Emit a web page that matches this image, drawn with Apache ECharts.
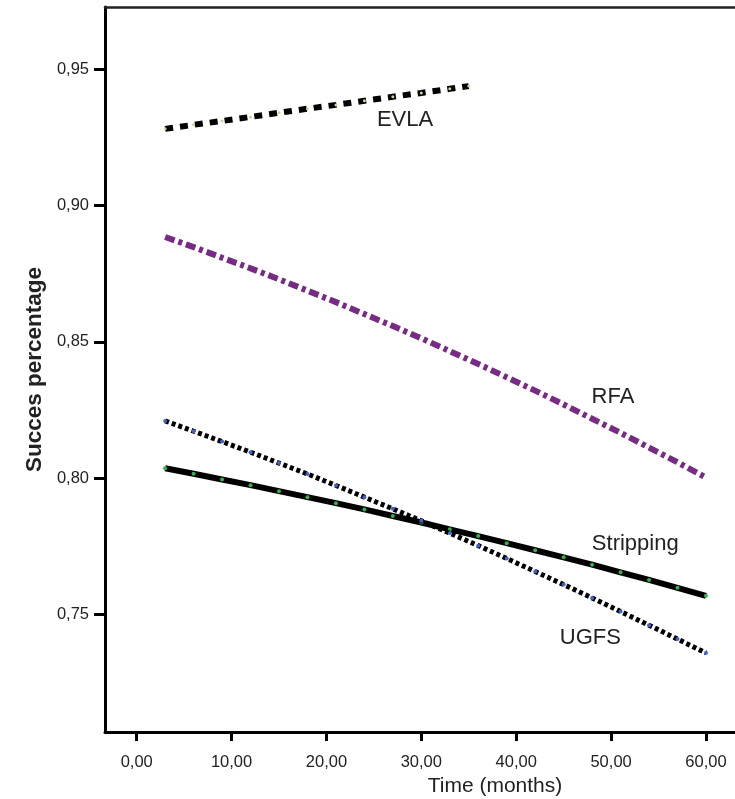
<!DOCTYPE html>
<html>
<head>
<meta charset="utf-8">
<script src="https://cdn.jsdelivr.net/npm/echarts@6/dist/echarts.min.js"></script>
<style>
html,body{margin:0;padding:0;background:#fff;}
#c{width:735px;height:799px;}
</style>
</head>
<body>
<div id="c"></div>
<script>
// ---- data ----
const months = [3,6,9,12,15,18,21,24,27,30,33,36,39,42,45,48,51,54,57,60];
const evlaMonths = [3,6,9,12,15,18,21,24,27,30,33,35];
const evla = [0.9282,0.9297,0.9311,0.9326,0.9341,0.9356,0.9370,0.9385,0.9400,0.9414,0.9429,0.9439];
const rfa = [0.8885,0.8848,0.8809,0.8770,0.8730,0.8688,0.8646,0.8602,0.8558,0.8513,0.8466,0.8419,0.8370,0.8321,0.8270,0.8218,0.8166,0.8112,0.8058,0.8002];
const ugfs = [0.8210,0.8172,0.8134,0.8095,0.8055,0.8015,0.7973,0.7930,0.7887,0.7843,0.7798,0.7752,0.7705,0.7657,0.7609,0.7560,0.7510,0.7460,0.7409,0.7358];
const stripping = [0.8036,0.8016,0.7995,0.7974,0.7952,0.7930,0.7908,0.7885,0.7861,0.7837,0.7812,0.7787,0.7761,0.7735,0.7709,0.7682,0.7654,0.7626,0.7597,0.7568];
const xTicks = [0,10,20,30,40,50,60];
const yTicks = [0.75,0.80,0.85,0.90,0.95];
const seriesNames = ['EVLA','RFA','Stripping','UGFS'];
const labelAnchors = [[28.28,0.9313],[50.2,0.8298],[52.55,0.7758],[47.82,0.7415]];

const FONT = '"Liberation Sans", Arial, sans-serif';
const TXT = '#222';
const pair = (xs, ys) => xs.map((x,i)=>[x, ys[i]]);
const fmt = v => v.toFixed(2).replace('.', ',');
const X_MIN = -3.34, X_MAX = 78.87;

const chart = echarts.init(document.getElementById('c'), null, {renderer:'canvas'});
const option = {
  backgroundColor:'#fff',
  animation:false,
  grid:{left:105, right:-150, top:7, bottom:67, show:false, containLabel:false, outerBoundsMode:'none'},
  xAxis:[{
    type:'value', min:X_MIN, max:X_MAX,
    name:'Time (months)', nameLocation:'middle', nameGap:44,
    nameTextStyle:{fontFamily:FONT, fontSize:21, color:TXT},
    axisLine:{show:true, onZero:false, lineStyle:{color:'#000', width:3}},
    axisTick:{show:true, length:9, lineStyle:{color:'#000', width:3}, customValues:xTicks},
    axisLabel:{show:true, margin:22, fontFamily:FONT, fontSize:16.5, color:TXT, customValues:xTicks, formatter:fmt},
    splitLine:{show:false}
  },{
    type:'value', position:'top', min:X_MIN, max:X_MAX,
    axisLine:{show:true, onZero:false, lineStyle:{color:'#222', width:2.5}},
    axisTick:{show:false}, axisLabel:{show:false}, splitLine:{show:false}
  }],
  yAxis:{
    type:'value', min:0.70679, max:0.97294,
    name:'Succes percentage', nameLocation:'middle', nameGap:54,
    nameTextStyle:{fontFamily:FONT, fontSize:22.5, fontWeight:'bold', color:TXT},
    axisLine:{show:true, onZero:false, lineStyle:{color:'#000', width:3}},
    axisTick:{show:true, length:11, lineStyle:{color:'#000', width:3}, customValues:yTicks},
    axisLabel:{show:true, margin:16, fontFamily:FONT, fontSize:16.5, color:TXT, customValues:yTicks, formatter:fmt},
    splitLine:{show:false}
  },
  series:[
    {name:seriesNames[0], type:'line', data:pair(evlaMonths, evla), showSymbol:true, symbol:'circle', symbolSize:3,
     itemStyle:{color:'#d9cf95'}, lineStyle:{color:'#000', width:6, type:[8,7]}, z:3},
    {name:seriesNames[1], type:'line', data:pair(months, rfa), showSymbol:false,
     lineStyle:{color:'#782b84', width:6, type:[10,4,4,4]}, z:3},
    {name:seriesNames[2], type:'line', data:pair(months, stripping), showSymbol:true, symbol:'circle', symbolSize:4,
     itemStyle:{color:'#34b34a'}, lineStyle:{color:'#000', width:6}, z:3},
    {name:seriesNames[3], type:'line', data:pair(months, ugfs), showSymbol:true, symbol:'circle', symbolSize:4,
     itemStyle:{color:'#4463c8'}, lineStyle:{color:'#000', width:5, type:[4,3]}, z:4}
  ]
};
chart.setOption(option);
const g = labelAnchors.map((p,i)=>{
  const px = chart.convertToPixel({gridIndex:0}, p);
  return {type:'text', x:px[0], y:px[1], z:10,
    style:{text:seriesNames[i], fill:TXT, font:'22px ' + FONT, textAlign:'center', textVerticalAlign:'middle'}};
});
chart.setOption({graphic:g});
</script>
</body>
</html>
